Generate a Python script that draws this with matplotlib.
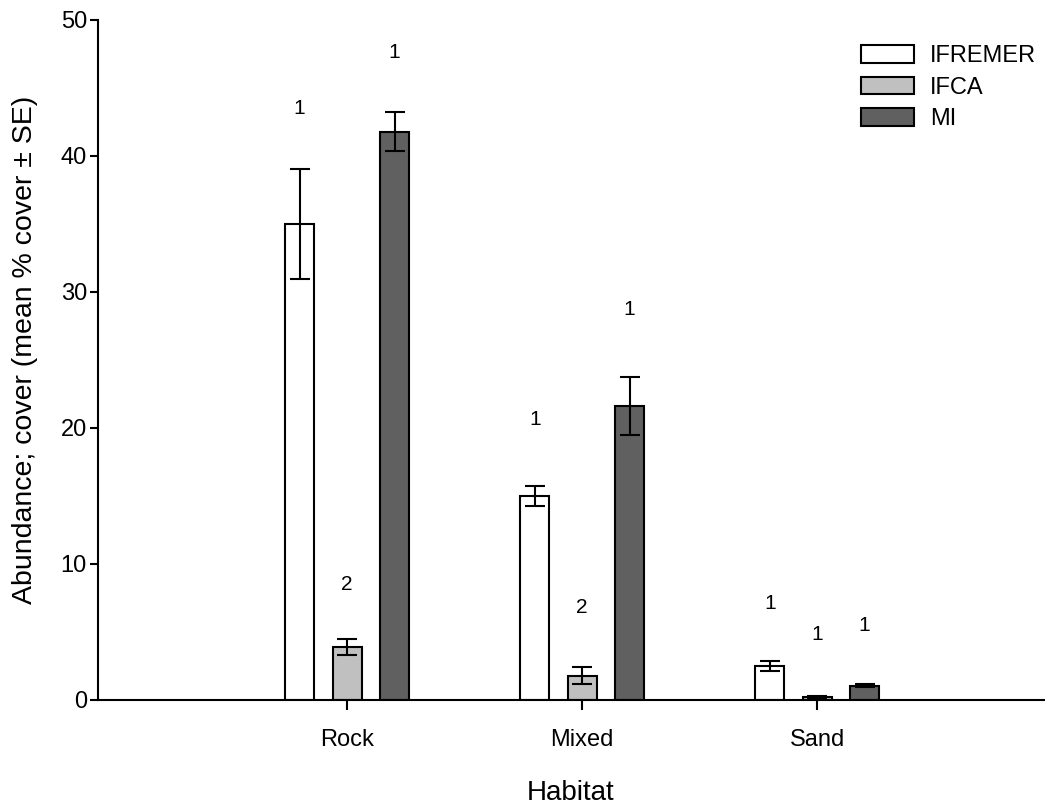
import matplotlib
matplotlib.use("Agg")
import matplotlib.pyplot as plt
import numpy as np

plt.rcParams['font.family'] = ['Liberation Sans', 'DejaVu Sans']

habitats = ["Rock", "Mixed", "Sand"]
series = ["IFREMER", "IFCA", "MI"]
colors = ["#ffffff", "#c0c0c0", "#606060"]
means = {
    "IFREMER": [35.0, 15.0, 2.5],
    "IFCA": [3.9, 1.8, 0.2],
    "MI": [41.8, 21.6, 1.05],
}
se = {
    "IFREMER": [4.05, 0.7, 0.35],
    "IFCA": [0.6, 0.6, 0.1],
    "MI": [1.45, 2.15, 0.1],
}
letters = {
    "IFREMER": ["1", "1", "1"],
    "IFCA": ["2", "2", "1"],
    "MI": ["1", "1", "1"],
}
letter_y = {
    "IFREMER": [43.5, 20.6, 7.1],
    "IFCA": [8.5, 6.8, 4.85],
    "MI": [47.6, 28.7, 5.5],
}

fig = plt.figure(figsize=(10.45, 8.09), dpi=100)
ax = fig.add_axes([98/1045, 1-700/809, 946/1045, 680/809])

x = np.arange(len(habitats))
offset = 0.202
width = 0.123
for i, s in enumerate(series):
    xs = x + (i - 1) * offset
    ax.bar(xs, means[s], width=width, color=colors[i], edgecolor="black",
           linewidth=1.5, label=s, zorder=2)
    ax.errorbar(xs, means[s], yerr=se[s], fmt="none", ecolor="black",
                elinewidth=1.5, capsize=7.5, capthick=1.5, zorder=3)
    for xi, t, yv in zip(xs, letters[s], letter_y[s]):
        ax.text(xi, yv, t, ha="center", va="center", fontsize=15)

ax.set_xlim(-1.06, 2.965)
ax.set_ylim(0, 50)
ax.set_yticks([0, 10, 20, 30, 40, 50])
ax.set_xticks(x)
ax.set_xticklabels(habitats)
ax.tick_params(axis="both", labelsize=17, width=1.5, direction="out")
ax.tick_params(axis="y", length=5.5, pad=2.5)
ax.tick_params(axis="x", length=7, pad=14)
ax.spines["top"].set_visible(False)
ax.spines["right"].set_visible(False)
ax.spines["left"].set_linewidth(1.5)
ax.spines["bottom"].set_linewidth(1.5)
ax.set_ylabel("Abundance; cover (mean % cover ± SE)", fontsize=20.5)
ax.yaxis.set_label_coords(-0.0635, 0.515)
ax.set_xlabel("Habitat", fontsize=20, labelpad=21)

leg = ax.legend(loc="upper left", bbox_to_anchor=(861/1045, 1-45/809),
                bbox_transform=fig.transFigure, frameon=False, borderpad=0,
                borderaxespad=0, fontsize=17, handlelength=2.25,
                handleheight=0.78, labelspacing=0.40, handletextpad=0.68)

fig.savefig("out.png", dpi=100)
